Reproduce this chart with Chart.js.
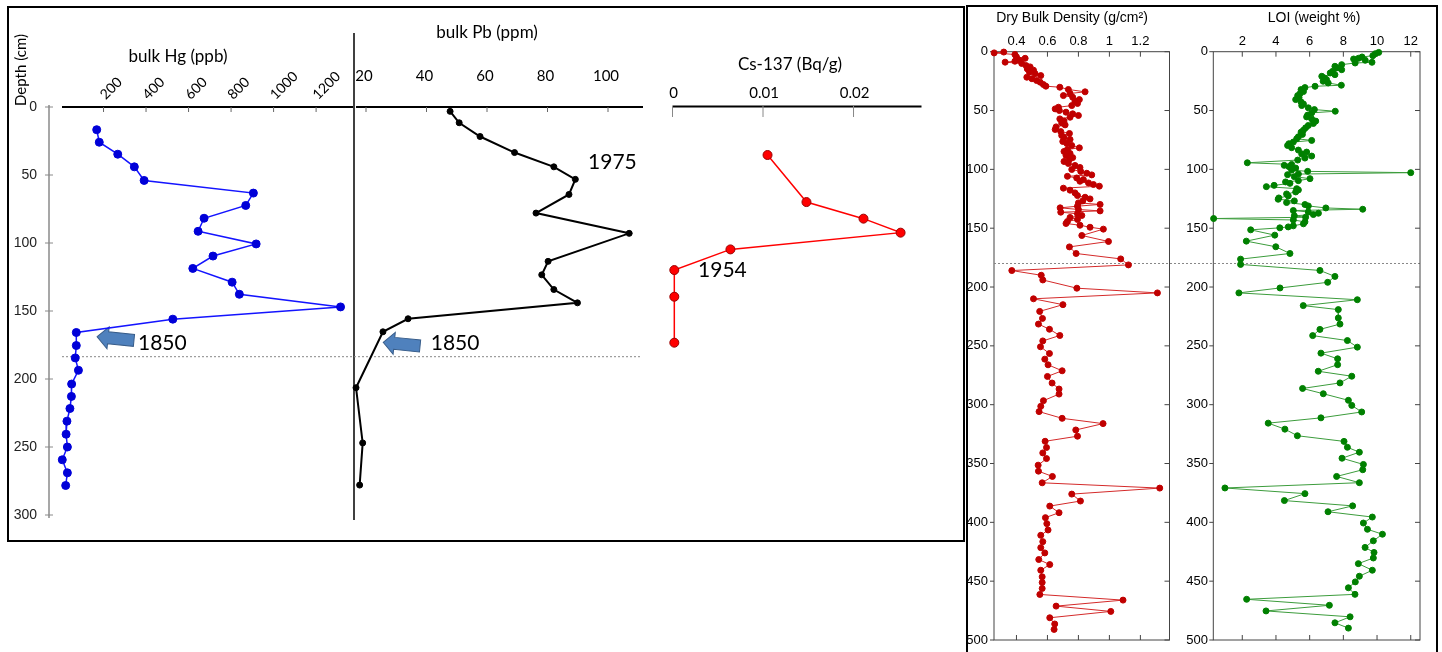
<!DOCTYPE html>
<html>
<head>
<meta charset="utf-8">
<script src="https://cdn.jsdelivr.net/npm/chart.js@4.4.1/dist/chart.umd.min.js"></script>
<style>
    body { margin: 0; background: #fff; width: 1442px; height: 652px; overflow: hidden; position: relative; }
    canvas { position: absolute; left: 0; top: 0; }
    .box { position: absolute; border: 2px solid #000; box-sizing: border-box; }
</style>
</head>
<body>
<div class="box" style="left:7px;top:6px;width:958px;height:536px"></div>
<div class="box" style="left:966px;top:5px;width:472px;height:700px"></div>
<canvas id="hg" width="1442" height="652"></canvas>
<canvas id="pb" width="1442" height="652"></canvas>
<canvas id="cs" width="1442" height="652"></canvas>
<canvas id="dbd" width="1442" height="652"></canvas>
<canvas id="loi" width="1442" height="652"></canvas>
<script>
// core 1: metals and Cs-137 (depth in cm)
const hgDepth = [16.7, 25.9, 34.7, 44, 54, 63.3, 72.4, 81.8, 91.4, 100.7, 109.6, 118.7, 128.8, 137.7, 147, 156,
    165.8, 175.4, 184.5, 193.6, 203.7, 212.8, 221.7, 231, 240.6, 250, 259.4, 269, 278.3];
const hgPpb = [168, 180, 267, 345, 391, 905, 869, 673, 645, 918, 715, 620, 805, 839, 1315, 526,
    72, 72, 67, 82, 50, 49, 42, 28, 24, 30, 6, 30, 22];

const pbDepth = [3.2, 11.6, 21.7, 33.5, 44, 53.2, 64.3, 78, 92.9, 113.5, 123.4, 134.2, 144, 155.7, 165.3, 206.4, 247, 278];
const pbPpm = [47.8, 50.8, 57.7, 69.1, 82.1, 89.2, 87.1, 76.2, 107, 80.2, 78.1, 82.1, 89.9, 33.9, 25.6, 16.7, 18.9, 17.9];

const csDepth = [35.3, 69.9, 82.1, 92.4, 104.7, 119.9, 139.5, 173.3];
const csBqg = [0.0105, 0.0148, 0.0211, 0.0252, 0.0064, 0.0002, 0.0002, 0.0002];

// core 2: dry bulk density and LOI
const dbdDepth = [0.3, 1, 2.4, 4.4, 5.6, 7.2, 8.1, 8.9, 10, 11.8, 12.9, 14.6, 15.7, 17.4, 18.6, 20.3, 21.7, 23, 24.5, 25.9,
    27.9, 29.3, 30.2, 32.1, 34.1, 35.5, 37.3, 38.7, 40.7, 42.1, 44, 45.8, 47.2, 48.6, 50, 51.4, 52.8, 54.2, 55.7, 57.1,
    58.8, 60.5, 62.2, 63.9, 66.1, 67.9, 69.5, 71.2, 73, 74.6, 76.3, 78, 79.7, 81.7, 83.1, 84.8, 86.5, 88.2, 90, 91.6,
    93.3, 95, 96.7, 98.4, 100.1, 101.8, 103.3, 104.7, 105.9, 107.3, 108.7, 110.1, 111.5, 112.9, 114.3, 116, 117.7, 120,
    122.3, 123.7, 125.1, 126.8, 128.5, 129.8, 131.3, 132.7, 134.1, 135.3, 136.4, 137.8, 139.2, 140.9, 142.6, 144.3, 146,
    147.5, 149.2, 150.8, 156.2, 161.3, 165.9, 171.5, 176.1, 181.2, 186, 190, 194, 201, 205, 210, 215, 220.7, 226.7,
    231.5, 235.9, 241.2, 245.8, 250.8, 256.5, 261.3, 266.1, 271.2, 276, 281.6, 286.7, 291, 296.6, 301.4, 305.9, 311.6,
    316.1, 321.5, 326.8, 331.1, 336.4, 341, 345.8, 351.4, 356.5, 361, 366.4, 370.9, 376, 381.9, 386.2, 391.8, 396,
    401.1, 406.5, 411, 416.4, 421.5, 426, 431.6, 435.9, 440.7, 446.3, 451.1, 456.2, 461.3, 466.1, 471.2, 475.7, 481.1,
    486.4, 491];
const dbdDensity = [0.318, 0.256, 0.39, 0.40, 0.456, 0.42, 0.39, 0.327, 0.434, 0.462, 0.488, 0.47, 0.51, 0.484, 0.52, 0.557, 0.467, 0.50, 0.53, 0.553,
    0.574, 0.59, 0.68, 0.735, 0.843, 0.746, 0.703, 0.763, 0.806, 0.778, 0.794, 0.757, 0.671, 0.65, 0.677, 0.72, 0.763, 0.80, 0.746, 0.68,
    0.707, 0.692, 0.714, 0.656, 0.65, 0.686, 0.742, 0.692, 0.707, 0.746, 0.699, 0.725, 0.757, 0.806, 0.729, 0.707, 0.746, 0.72, 0.763, 0.742,
    0.707, 0.735, 0.778, 0.81, 0.757, 0.815, 0.854, 0.886, 0.729, 0.789, 0.832, 0.81, 0.865, 0.897, 0.935, 0.703, 0.746, 0.778,
    0.794, 0.843, 0.875, 0.828, 0.80, 0.94, 0.794, 0.682, 0.80, 0.94, 0.686, 0.794, 0.822, 0.746, 0.794, 0.729, 0.72,
    0.81, 0.875, 0.961, 0.822, 0.994, 0.742, 0.785, 1.073, 1.123, 0.37, 0.56, 0.57, 0.79, 1.31, 0.51, 0.70, 0.55, 0.568,
    0.542, 0.613, 0.68, 0.57, 0.555, 0.613, 0.583, 0.604, 0.695, 0.60, 0.63, 0.675, 0.675, 0.574, 0.557, 0.546, 0.695,
    0.959, 0.783, 0.794, 0.585, 0.594, 0.57, 0.594, 0.54, 0.542, 0.632, 0.566, 1.325, 0.757, 0.813, 0.615, 0.675, 0.587,
    0.596, 0.604, 0.557, 0.57, 0.557, 0.583, 0.544, 0.615, 0.557, 0.566, 0.566, 0.566, 0.551, 1.088, 0.656, 1.009, 0.615,
    0.647, 0.643];

const loiDepth = [0.6, 1.7, 3.4, 4.5, 5.6, 6.2, 7.3, 9, 9.6, 11, 12.4, 13.8, 15.3, 16.7, 18.1, 19.5, 20.9, 22.3, 23.7, 25.1,
    26.6, 28.5, 29.4, 30.5, 32.2, 33.9, 35.6, 37.3, 39, 40.7, 42.7, 44.4, 45.8, 47.7, 49.2, 50.6, 52, 53.9, 55.4, 57.1,
    59, 61, 62.7, 64.7, 66.7, 68.4, 70.3, 72.3, 74, 75.4, 76.8, 78.2, 79.7, 81.6, 83.6, 85.3, 87, 88.7, 90.4, 92.1,
    94.4, 95.8, 96.6, 97.7, 98.9, 100.6, 101.7, 102.8, 104, 104.5, 106.2, 107.9, 109.6, 110.7, 111.9, 113.6, 114.7,
    116.4, 117.5, 119.2, 120.9, 122.6, 124.3, 125.4, 126.8, 128.2, 129.9, 131.1, 132.8, 133.9, 135, 136.2, 137.3,
    138.4, 139.5, 140.7, 141.8, 143, 144.6, 146.3, 148, 148.9, 149.7, 151.4, 155.9, 161, 165.8, 171.5, 176.3, 180.8,
    185.9, 191, 196, 200.8, 205, 210.8, 215.8, 219.2, 226.3, 231.5, 236, 241.3, 245.5, 251.1, 256.2, 261, 266, 271.6,
    275.8, 281.5, 286.2, 290.7, 296.3, 300.6, 306.2, 311.2, 315.7, 320.8, 326.4, 331.2, 336.2, 340.4, 345.5, 350.8,
    355.3, 361, 366.3, 370.8, 375.6, 381.5, 386, 391, 395.5, 400.6, 405.9, 410.1, 415.7, 421.3, 425.6, 430.3, 435.1,
    440.7, 445.8, 450.6, 455.6, 461.2, 465.4, 470.5, 475.3, 480.3, 485.4, 489.9];
const loiPercent = [10.1, 9.9, 9.75, 9.11, 8.9, 8.61, 9.3, 9.7, 8.7, 7.9, 7.5, 7.6, 7.9, 7.36, 7.22, 7.5, 6.72, 6.88, 7.0, 6.8,
    7.1, 7.88, 6.32, 5.72, 5.49, 5.63, 5.43, 5.29, 5.37, 5.17, 5.49, 5.63, 5.53, 5.92, 6.28, 7.52, 6.12, 5.88, 5.82, 6.12,
    6.36, 6.22, 5.92, 5.76, 5.63, 5.49, 5.57, 5.33, 5.23, 6.12, 5.03, 4.77, 4.69, 4.93, 5.33, 5.82, 5.53, 6.12, 5.72, 5.29,
    2.3, 4.93, 4.49, 4.77, 5.17, 4.93, 5.88, 12.0, 5.33, 4.69, 5.09, 6.02, 5.33, 4.57, 4.83, 3.89, 3.43,
    5.23, 5.33, 5.17, 4.63, 4.73, 4.17, 4.13, 5.09, 4.63, 5.72, 5.92, 6.96, 9.15, 5.03, 5.92, 6.52,
    6.22, 5.09, 5.76, 0.3, 5.03, 5.72, 5.63, 5.03, 4.73, 4.23, 2.5, 3.93, 2.24, 3.99, 4.83, 1.9, 1.9,
    6.61, 7.5, 7.07, 4.24, 1.8, 8.83, 5.62, 7.7, 7.7, 7.8, 6.61, 6.18, 8.24, 8.83, 6.67, 7.66, 7.66, 6.51,
    8.5, 7.8, 5.58, 6.81, 8.3, 8.5, 9.09, 6.67, 3.54, 4.53, 5.27, 8.04, 8.24, 8.95, 7.92, 9.19,
    9.15, 7.6, 8.95, 0.97, 5.72, 4.5, 8.55, 7.09, 9.72, 9.19, 9.43, 10.32, 9.78, 9.29, 9.82, 9.78, 8.89,
    9.72, 8.95, 8.71, 8.3, 8.69, 2.26, 7.17, 3.41, 8.4, 7.5, 8.3];

// ticks
const hgTicks = [200, 400, 600, 800, 1000, 1200];
const pbTicks = [20, 40, 60, 80, 100];
const csTicks = [0, 0.01, 0.02];
const csTickLabels = ['0', '0.01', '0.02'];
const dbdTicks = [0.4, 0.6, 0.8, 1, 1.2];
const dbdTickLabels = ['0.4', '0.6', '0.8', '1', '1.2'];
const loiTicks = [2, 4, 6, 8, 10, 12];
const leftDepthTicks = [0, 50, 100, 150, 200, 250, 300];
const rightDepthTicks = [0, 50, 100, 150, 200, 250, 300, 350, 400, 450, 500];

const W = 1442, H = 652;
const CAL = 'Lato, "Open Sans", sans-serif';
const ARL = '"Liberation Sans", Arial, sans-serif';

function pts(depth, vals) {
    return depth.map((d, i) => ({ x: vals[i], y: d }));
}

function txt(ctx, s, x, y, font, align = 'center', rot = 0, color = '#000') {
    ctx.save();
    ctx.translate(x, y);
    if (rot) ctx.rotate(rot);
    ctx.font = font;
    ctx.fillStyle = color;
    ctx.textAlign = align;
    ctx.textBaseline = 'middle';
    ctx.fillText(s, 0, 0);
    ctx.restore();
}

function seg(ctx, x1, y1, x2, y2, color = '#000', width = 1, dash = []) {
    ctx.save();
    ctx.beginPath();
    ctx.strokeStyle = color;
    ctx.lineWidth = width;
    ctx.setLineDash(dash);
    ctx.moveTo(x1, y1);
    ctx.lineTo(x2, y2);
    ctx.stroke();
    ctx.restore();
}

function arrowLeft(ctx, x, y) {
    ctx.save();
    ctx.translate(x, y);
    ctx.rotate(0.1);
    ctx.beginPath();
    ctx.moveTo(0, 0);
    ctx.lineTo(11, -11);
    ctx.lineTo(11, -6);
    ctx.lineTo(37, -6);
    ctx.lineTo(37, 6);
    ctx.lineTo(11, 6);
    ctx.lineTo(11, 11);
    ctx.closePath();
    ctx.fillStyle = '#4f81bd';
    ctx.fill();
    ctx.strokeStyle = '#385d8a';
    ctx.lineWidth = 1;
    ctx.stroke();
    ctx.restore();
}

// boxed panels on the right
function framePanel(ctx, x, y, xTicks, xLabels, labelRight) {
    ctx.save();
    ctx.strokeStyle = '#444';
    ctx.lineWidth = 1;
    ctx.strokeRect(x.left, y.top, x.right - x.left, y.bottom - y.top);
    ctx.restore();
    xTicks.forEach((t, i) => {
        const px = x.getPixelForValue(t);
        seg(ctx, px, y.top, px, y.top + 5, '#444');
        seg(ctx, px, y.bottom, px, y.bottom - 5, '#444');
        txt(ctx, xLabels[i], px, y.top - 10, `13px ${ARL}`);
    });
    rightDepthTicks.forEach(d => {
        const py = y.getPixelForValue(d);
        seg(ctx, x.left - 4, py, x.left, py, '#444');
        seg(ctx, x.right - 5, py, x.right, py, '#444');
        txt(ctx, String(d), labelRight, py, `13px ${ARL}`, 'right');
    });
}

function profile(id, o) {
    return new Chart(document.getElementById(id), {
        type: 'scatter',
        data: {
            datasets: [{
                data: pts(o.depth, o.values),
                showLine: true,
                clip: false,
                borderColor: o.line,
                borderWidth: o.lineWidth,
                backgroundColor: o.fill,
                pointBorderColor: o.edge || o.fill,
                pointBorderWidth: 1,
                pointRadius: o.radius
            }]
        },
        options: {
            responsive: false,
            animation: false,
            devicePixelRatio: 1,
            events: [],
            layout: { padding: { left: o.area[0], top: o.area[1], right: W - o.area[2], bottom: H - o.area[3] } },
            plugins: { legend: { display: false }, tooltip: { enabled: false } },
            scales: {
                x: { type: 'linear', display: false, min: o.xRange[0], max: o.xRange[1] },
                y: { type: 'linear', display: false, min: o.yRange[0], max: o.yRange[1], reverse: true }
            }
        },
        plugins: [{
            id: 'decor',
            beforeDatasetsDraw(c) { o.decor(c.ctx, c.scales.x, c.scales.y); }
        }]
    });
}

profile('hg', {
    depth: hgDepth, values: hgPpb,
    area: [61, 107, 355, 515], xRange: [0, 1383], yRange: [0, 300],
    line: '#1414ff', lineWidth: 1.5, fill: '#0000d8', radius: 4,
    decor(ctx, x, y) {
        txt(ctx, 'Depth (cm)', 21, 70, `15px ${CAL}`, 'center', -Math.PI / 2);
        seg(ctx, 49, y.top - 2, 49, y.bottom + 3, '#8a8a8a', 1.5);
        leftDepthTicks.forEach(d => {
            const py = y.getPixelForValue(d);
            seg(ctx, 45, py, 53, py, '#8a8a8a');
            txt(ctx, String(d), 37, py, `14px ${ARL}`, 'right', 0, '#222');
        });
        seg(ctx, x.getPixelForValue(0) + 1, y.top, 353, y.top, '#000', 2);
        hgTicks.forEach(t => {
            const px = x.getPixelForValue(t);
            seg(ctx, px, y.top, px, y.top + 5, '#666');
            txt(ctx, String(t), px - 1, y.top - 10, `14px ${CAL}`, 'left', -Math.PI / 4);
        });
        txt(ctx, 'bulk Hg (ppb)', 178, 57, `17px ${CAL}`);
        const py = y.getPixelForValue(183.6);
        seg(ctx, x.getPixelForValue(0) + 1, py, 353, py, '#888', 1, [2, 2]);
        arrowLeft(ctx, x.getPixelForValue(170), y.getPixelForValue(168.9));
        txt(ctx, '1850', x.getPixelForValue(362), y.getPixelForValue(173.5), `21px ${CAL}`, 'left');
    }
});

profile('pb', {
    depth: pbDepth, values: pbPpm,
    area: [353, 107, 643, 515], xRange: [15.7, 111.57], yRange: [0, 300],
    line: '#000', lineWidth: 2, fill: '#000', radius: 3,
    decor(ctx, x, y) {
        seg(ctx, 354, 33, 354, 520, '#000', 1.5);
        seg(ctx, 356, y.top, x.right, y.top, '#000', 2);
        pbTicks.forEach(t => {
            const px = x.getPixelForValue(t);
            seg(ctx, px, y.top, px, y.top + 5, '#666');
            txt(ctx, String(t), px - 2, 76, `15px ${CAL}`);
        });
        txt(ctx, 'bulk Pb (ppm)', 487, 33, `17px ${CAL}`);
        const py = y.getPixelForValue(183.6);
        seg(ctx, 354, py, 642, py, '#888', 1, [2, 2]);
        txt(ctx, '1975', x.getPixelForValue(93.4), y.getPixelForValue(40.4), `21px ${CAL}`, 'left');
        arrowLeft(ctx, x.getPixelForValue(25.7), y.getPixelForValue(173));
        txt(ctx, '1850', x.getPixelForValue(41.4), y.getPixelForValue(173.5), `21px ${CAL}`, 'left');
    }
});

profile('cs', {
    depth: csDepth, values: csBqg,
    area: [672.5, 107, 921.5, 515], xRange: [0, 0.02751], yRange: [0, 300],
    line: '#ff0000', lineWidth: 1.5, fill: '#ff0000', edge: '#990000', radius: 4.5,
    decor(ctx, x, y) {
        seg(ctx, x.left, 106.5, x.right, 106.5, '#000', 2);
        csTicks.forEach((t, i) => {
            const px = x.getPixelForValue(t);
            seg(ctx, px, 106, px, 117, '#888');
            txt(ctx, csTickLabels[i], px + 1, 93, `15px ${CAL}`);
        });
        txt(ctx, 'Cs-137 (Bq/g)', 790, 65, `17px ${CAL}`);
        txt(ctx, '1954', x.getPixelForValue(0.00282), y.getPixelForValue(119.9), `21px ${CAL}`, 'left');
    }
});

profile('dbd', {
    depth: dbdDepth, values: dbdDensity,
    area: [994, 51.7, 1169.5, 640], xRange: [0.255, 1.388], yRange: [0, 500],
    line: '#d42a2a', lineWidth: 1, fill: '#c00000', radius: 3,
    decor(ctx, x, y) {
        framePanel(ctx, x, y, dbdTicks, dbdTickLabels, 988);
        txt(ctx, 'Dry Bulk Density (g/cm²)', 1072, 18, `14px ${ARL}`);
        const py = y.getPixelForValue(180);
        seg(ctx, x.left, py, 1420, py, '#888', 1, [2, 2]);
    }
});

profile('loi', {
    depth: loiDepth, values: loiPercent,
    area: [1213.3, 51.7, 1420, 640], xRange: [0.28, 12.55], yRange: [0, 500],
    line: '#3c9c3c', lineWidth: 1, fill: '#008000', radius: 3,
    decor(ctx, x, y) {
        framePanel(ctx, x, y, loiTicks, loiTicks.map(String), 1208);
        txt(ctx, 'LOI (weight %)', 1314, 18, `14px ${ARL}`);
    }
});
</script>
</body>
</html>
